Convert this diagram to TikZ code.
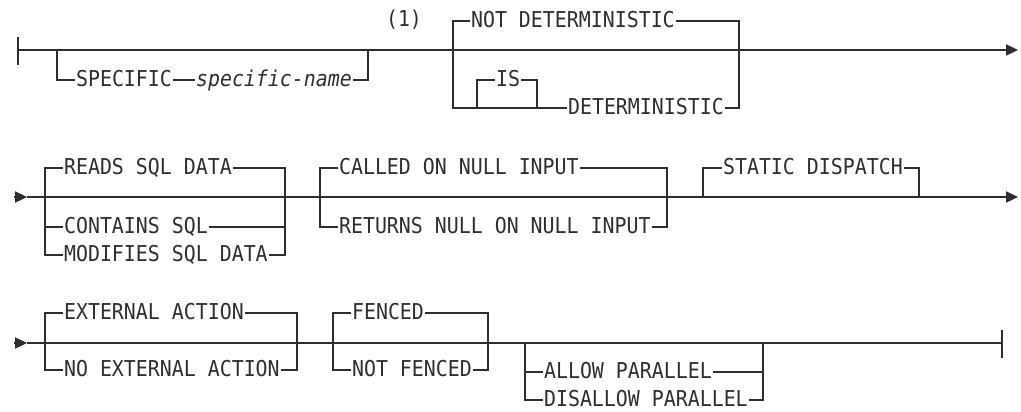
\documentclass[tikz,border=0pt]{standalone}
\usepackage{fontspec}
\newfontfamily\railfont[FakeStretch=0.91]{DejaVu Sans Mono}
\usetikzlibrary{arrows.meta,positioning}
\definecolor{rline}{HTML}{2E2E2E}
\tikzset{
  rail/.style={draw=rline, line width=0.8pt},
  kw/.style={font=\railfont\fontsize{16.4}{19}\selectfont, anchor=west, inner xsep=0.6pt,
             inner ysep=0pt, text height=12pt, text depth=3pt, text=rline},
  var/.style={kw, font=\railfont\itshape\fontsize{16.4}{19}\selectfont},
  tip/.style={rail, -{Triangle[length=9pt, width=8.5pt]}},
}

\begin{document}
\begin{tikzpicture}[x=0.75pt, y=-0.75pt]
  \useasboundingbox (0,0) rectangle (1021,411);

  % first line
  \coordinate (r1in) at (18,50);
  \coordinate (r1out) at (1018,50);
  \draw[rail] (r1in) ++(0,-13) -- ++(0,28);
  \draw[tip] (r1in) -- (r1out);

  \node[kw] (spec) at (75,80) {SPECIFIC};
  \node[var] (specname) at (195,80) {specific-name};
  \coordinate (specL) at (57,50);
  \coordinate (specR) at (368,50);
  \draw[rail] (specL) |- (spec.west);
  \draw[rail] (spec.east) -- (specname.west);
  \draw[rail] (specname.east) -| (specR);

  \node[kw, anchor=center] (fn1) at (404,20) {(1)};

  \node[kw] (notdet) at (470,21) {NOT DETERMINISTIC};
  \node[kw] (isk) at (495,80) {IS};
  \node[kw] (det) at (567,108) {DETERMINISTIC};
  \coordinate (detL) at (453,50);
  \coordinate (detR) at (739,50);
  \coordinate (isL) at (477,108);
  \coordinate (isR) at (537,108);
  \draw[rail] (detL) |- (notdet.west);
  \draw[rail] (notdet.east) -| (detR);
  \draw[rail] (detL) |- (det.west);
  \draw[rail] (det.east) -| (detR);
  \draw[rail] (isL) |- (isk.west);
  \draw[rail] (isk.east) -| (isR);

  % second line
  \coordinate (r2in) at (14,197);
  \coordinate (r2a) at (27,197);
  \coordinate (r2out) at (1018,197);
  \draw[tip] (r2in) -- (r2a);
  \draw[tip] (r2a) -- (r2out);

  \node[kw] (reads) at (63,168) {READS SQL DATA};
  \node[kw] (contains) at (63,227) {CONTAINS SQL};
  \node[kw] (modifies) at (63,255) {MODIFIES SQL DATA};
  \coordinate (dataL) at (45,197);
  \coordinate (dataR) at (285,197);
  \draw[rail] (dataL) |- (reads.west);
  \draw[rail] (reads.east) -| (dataR);
  \draw[rail] (dataL) |- (modifies.west);
  \draw[rail] (modifies.east) -| (dataR);
  \draw[rail] (contains.west) -- (contains.west -| dataL);
  \draw[rail] (contains.east) -- (contains.east -| dataR);

  \node[kw] (called) at (338,168) {CALLED ON NULL INPUT};
  \node[kw] (returns) at (338,227) {RETURNS NULL ON NULL INPUT};
  \coordinate (nullL) at (320,197);
  \coordinate (nullR) at (667,197);
  \draw[rail] (nullL) |- (called.west);
  \draw[rail] (called.east) -| (nullR);
  \draw[rail] (nullL) |- (returns.west);
  \draw[rail] (returns.east) -| (nullR);

  \node[kw] (static) at (722,168) {STATIC DISPATCH};
  \coordinate (statL) at (703,197);
  \coordinate (statR) at (919,197);
  \draw[rail] (statL) |- (static.west);
  \draw[rail] (static.east) -| (statR);

  % third line
  \coordinate (r3in) at (14,343);
  \coordinate (r3a) at (27,343);
  \coordinate (r3out) at (1002,343);
  \draw[tip] (r3in) -- (r3a);
  \draw[rail] (r3a) -- (r3out);
  \draw[rail] (r3out) ++(0,-13) -- ++(0,28);
  \draw[rail, line width=1.6pt] (769,343) -- (793,343);

  \node[kw] (ext) at (63,313) {EXTERNAL ACTION};
  \node[kw] (noext) at (63,370) {NO EXTERNAL ACTION};
  \coordinate (extL) at (45,343);
  \coordinate (extR) at (297,343);
  \draw[rail] (extL) |- (ext.west);
  \draw[rail] (ext.east) -| (extR);
  \draw[rail] (extL) |- (noext.west);
  \draw[rail] (noext.east) -| (extR);

  \node[kw] (fenced) at (351,313) {FENCED};
  \node[kw] (notfenced) at (351,370) {NOT FENCED};
  \coordinate (fenL) at (333,343);
  \coordinate (fenR) at (488,343);
  \draw[rail] (fenL) |- (fenced.west);
  \draw[rail] (fenced.east) -| (fenR);
  \draw[rail] (fenL) |- (notfenced.west);
  \draw[rail] (notfenced.east) -| (fenR);

  \node[kw] (allow) at (543,372) {ALLOW PARALLEL};
  \node[kw] (disallow) at (543,400) {DISALLOW PARALLEL};
  \coordinate (parL) at (525,343);
  \coordinate (parR) at (763,343);
  \draw[rail] (parL) |- (disallow.west);
  \draw[rail] (disallow.east) -| (parR);
  \draw[rail] (allow.west) -- (allow.west -| parL);
  \draw[rail] (allow.east) -- (allow.east -| parR);
\end{tikzpicture}
\end{document}
